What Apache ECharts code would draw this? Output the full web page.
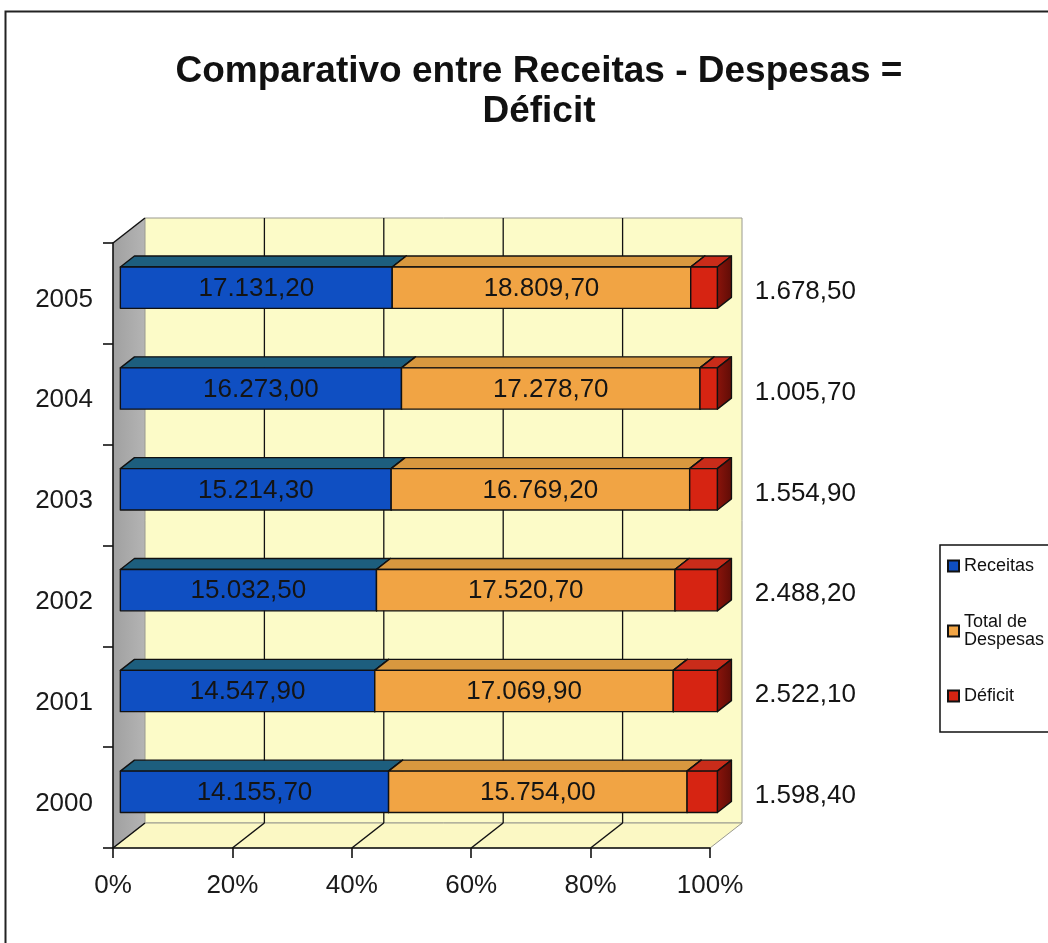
<!DOCTYPE html>
<html>
<head>
<meta charset="utf-8">
<script src="https://cdn.jsdelivr.net/npm/echarts@6/dist/echarts.min.js"></script>
<style>
  html, body { margin: 0; padding: 0; background: #ffffff; }
  #chart { width: 1048px; height: 943px; }
</style>
</head>
<body>
<div id="chart"></div>
<script>
// Values per year (R$ millions)
const years    = ['2000', '2001', '2002', '2003', '2004', '2005'];
const receitas = [14155.70, 14547.90, 15032.50, 15214.30, 16273.00, 17131.20];
const despesas = [15754.00, 17069.90, 17520.70, 16769.20, 17278.70, 18809.70];
const deficit  = [1598.40, 2522.10, 2488.20, 1554.90, 1005.70, 1678.50];
const seriesNames = ['Receitas', 'Total de\nDespesas', 'Déficit'];

const stacks = [receitas, despesas, deficit];

// 3D depth of the plot box (pixels) and where the bar slab sits inside it
const DX = 32, DY = -25;
const F_FRONT = 0.23, F_BACK = 0.67;
const BAR_FRAC = 0.41;
const FONT = '"Liberation Sans", Arial, sans-serif';

const faceColors = [
  { front: '#0f4fc2', top: '#1d5e7e', side: '#0a3a8a' },
  { front: '#f1a444', top: '#d8983f', side: '#b87426' },
  { front: '#d62412', top: '#c92c1a', side: '#8c140b' }
];

function fmtBR(v) {
  const parts = v.toFixed(2).split('.');
  const intPart = parts[0].replace(/\B(?=(\d{3})+(?!\d))/g, '.');
  return intPart + ',' + parts[1];
}

function percentRange(s, i) {
  let total = 0;
  for (let k = 0; k < stacks.length; k++) total += stacks[k][i];
  let start = 0;
  for (let k = 0; k < s; k++) start += stacks[k][i];
  return [start / total * 100, (start + stacks[s][i]) / total * 100];
}

// Walls, floor and back-wall gridlines of the 3D box
function renderWalls(params, api) {
  const cs = params.coordSys;
  const L = cs.x, T = cs.y, R = cs.x + cs.width, B = cs.y + cs.height;
  const children = [];
  // left side wall
  children.push({
    type: 'polygon',
    shape: { points: [[L, T], [L + DX, T + DY], [L + DX, B + DY], [L, B]] },
    style: { fill: new echarts.graphic.LinearGradient(0, 0, 1, 0, [
      { offset: 0, color: '#a0a0a0' }, { offset: 1, color: '#b4b4b4' }]), stroke: null }
  });
  // back wall
  children.push({
    type: 'rect',
    shape: { x: L + DX, y: T + DY, width: R - L, height: B - T },
    style: { fill: '#fcfbc8', stroke: '#9a9a90', lineWidth: 1 }
  });
  // floor
  children.push({
    type: 'polygon',
    shape: { points: [[L, B], [L + DX, B + DY], [R + DX, B + DY], [R, B]] },
    style: { fill: '#fbf8c4', stroke: '#9a9a90', lineWidth: 1 }
  });
  // vertical gridlines on back wall and diagonal lines on the floor
  for (let v = 0; v <= 100; v += 20) {
    const x = api.coord([v, 0])[0];
    if (v > 0 && v < 100) {
      children.push({
        type: 'line',
        shape: { x1: x + DX, y1: T + DY, x2: x + DX, y2: B + DY },
        style: { stroke: '#111', lineWidth: 1.3 }
      });
    }
    if (v < 100) {
      children.push({
        type: 'line',
        shape: { x1: x, y1: B, x2: x + DX, y2: B + DY },
        style: { stroke: '#111', lineWidth: 1.5 }
      });
    }
  }
  // top edge of the side wall
  children.push({
    type: 'line',
    shape: { x1: L, y1: T, x2: L + DX, y2: T + DY },
    style: { stroke: '#111', lineWidth: 1.5 }
  });
  return { type: 'group', children: children };
}

function makeBarRenderer(s) {
  return function (params, api) {
    const i = api.value(0);
    const range = percentRange(s, i);
    const p0 = api.coord([range[0], i]);
    const p1 = api.coord([range[1], i]);
    const band = api.size([0, 1])[1];
    const h = band * BAR_FRAC;
    const fx = DX * F_FRONT, fy = DY * F_FRONT;
    const ddx = DX * (F_BACK - F_FRONT), ddy = DY * (F_BACK - F_FRONT);
    const x0 = p0[0] + fx, x1 = p1[0] + fx;
    const yc = p0[1] + fy;
    const yt = yc - h / 2, yb = yc + h / 2;
    const c = faceColors[s];
    const stroke = { stroke: '#111', lineWidth: 1.4, lineJoin: 'round' };
    const children = [
      {
        type: 'polygon',
        shape: { points: [[x0, yt], [x1, yt], [x1 + ddx, yt + ddy], [x0 + ddx, yt + ddy]] },
        style: Object.assign({ fill: c.top }, stroke)
      },
      {
        type: 'polygon',
        shape: { points: [[x1, yt], [x1 + ddx, yt + ddy], [x1 + ddx, yb + ddy], [x1, yb]] },
        style: Object.assign({ fill: new echarts.graphic.LinearGradient(0, 0, 1, 0, [
          { offset: 0, color: c.side }, { offset: 1, color: '#5e0c06' }]) }, stroke)
      },
      {
        type: 'rect',
        shape: { x: x0, y: yt, width: x1 - x0, height: yb - yt },
        style: Object.assign({ fill: c.front }, stroke)
      }
    ];
    const label = fmtBR(stacks[s][i]);
    if (s < 2) {
      children.push({
        type: 'text',
        style: { text: label, x: (x0 + x1) / 2, y: yc + 1, align: 'center', verticalAlign: 'middle',
                 fill: '#141414', font: '26px ' + FONT }
      });
    } else {
      children.push({
        type: 'text',
        style: { text: label, x: x1 + 88, y: yc + 4, align: 'center', verticalAlign: 'middle',
                 fill: '#141414', font: '26px ' + FONT }
      });
    }
    return { type: 'group', children: children };
  };
}

const chart = echarts.init(document.getElementById('chart'), null, { renderer: 'canvas' });

const barSeries = seriesNames.map(function (name, s) {
  return {
    type: 'custom',
    name: name,
    z: 3 + s,
    itemStyle: { color: faceColors[s].front, borderColor: '#111', borderWidth: 1 },
    renderItem: makeBarRenderer(s),
    encode: { y: 0 },
    data: years.map(function (_, i) { return [i]; })
  };
});

chart.setOption({
  animation: false,
  backgroundColor: '#ffffff',
  title: {
    text: 'Comparativo entre Receitas - Despesas =\nDéficit',
    left: 534,
    top: 47,
    textAlign: 'center',
    textStyle: { fontFamily: FONT, fontSize: 37, fontWeight: 'bold', color: '#111', lineHeight: 40 }
  },
  graphic: [{
    type: 'rect',
    shape: { x: 5.5, y: 11.5, width: 1200, height: 1200 },
    style: { fill: null, stroke: '#222', lineWidth: 2 },
    silent: true
  }],
  legend: {
    orient: 'vertical',
    left: 940,
    top: 545,
    padding: [12, 70, 27, 7],
    itemGap: 38,
    itemWidth: 11,
    itemHeight: 11,
    icon: 'rect',
    borderColor: '#111',
    borderWidth: 1.5,
    backgroundColor: '#ffffff',
    textStyle: { fontFamily: FONT, fontSize: 18, color: '#111', lineHeight: 18 },
    data: seriesNames
  },
  grid: { left: 113, right: 338, top: 243, bottom: 95, containLabel: false },
  xAxis: {
    type: 'value',
    min: 0,
    max: 100,
    interval: 20,
    z: 6,
    axisLine: { show: true, lineStyle: { color: '#111', width: 1.6 } },
    axisTick: { show: true, length: 10, lineStyle: { color: '#111', width: 1.6 } },
    splitLine: { show: false },
    axisLabel: { formatter: '{value}%', fontFamily: FONT, fontSize: 26, color: '#1a1a1a', margin: 25 }
  },
  yAxis: {
    type: 'category',
    data: years,
    z: 6,
    axisLine: { show: true, lineStyle: { color: '#111', width: 1.6 } },
    axisTick: { show: true, length: 10, lineStyle: { color: '#111', width: 1.6 } },
    splitLine: { show: false },
    axisLabel: {
      fontFamily: FONT, fontSize: 26, color: '#1a1a1a', margin: 20,
      formatter: '{y|{value}}',
      rich: { y: { fontFamily: FONT, fontSize: 26, color: '#1a1a1a', padding: [12, 0, 0, 0] } }
    }
  },
  series: [{
    type: 'custom',
    z: 1,
    silent: true,
    renderItem: renderWalls,
    data: [[0]]
  }].concat(barSeries)
});
</script>
</body>
</html>
